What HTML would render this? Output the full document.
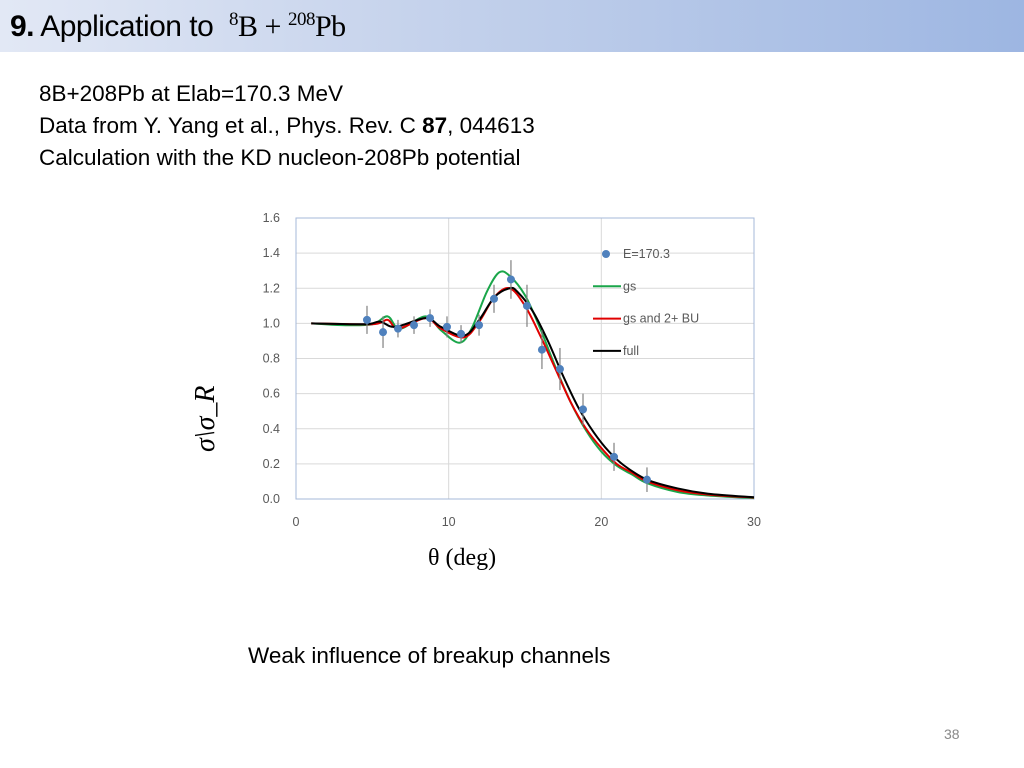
<!DOCTYPE html>
<html><head><meta charset="utf-8"><style>
body{margin:0;width:1024px;height:768px;background:#fff;position:relative;overflow:hidden;font-family:"Liberation Sans",sans-serif}
.hdr{position:absolute;left:0;top:0;width:1024px;height:52px;background:linear-gradient(90deg,#e2e8f5 0%,#c6d3ec 40%,#9db6e2 100%)}
.title{position:absolute;left:10px;top:9px;font-size:30px;color:#000;letter-spacing:-0.5px}
.title .m{font-family:"Liberation Serif",serif}
.txt{position:absolute;left:39px;top:78px;font-size:22.5px;line-height:32px;color:#000}
.foot{position:absolute;left:248px;top:643px;font-size:22.5px}
.pg{position:absolute;left:944px;top:726px;font-size:14px;color:#888}
</style></head><body>
<div class="hdr"></div>
<div class="title"><b>9.</b> Application to &nbsp;<span class="m"><sup style="font-size:19px">8</sup>B + <sup style="font-size:19px">208</sup>Pb</span></div>
<div class="txt">8B+208Pb at Elab=170.3 MeV<br>Data from Y. Yang et al., Phys. Rev. C <b>87</b>, 044613<br>Calculation with the KD nucleon-208Pb potential</div>
<svg id="chart" width="1024" height="768" style="position:absolute;left:0;top:0"></svg>
<div class="foot">Weak influence of breakup channels</div>
<div class="pg">38</div>
<script>
const xTicks=[0,10,20,30];
const yTicks=[0,0.2,0.4,0.6,0.8,1.0,1.2,1.4,1.6];
const dataX=[4.65,5.7,6.68,7.73,8.78,9.89,10.81,11.99,12.97,14.08,15.13,16.11,17.29,18.8,20.83,22.99];
const dataY=[1.02,0.95,0.97,0.99,1.03,0.98,0.94,0.99,1.14,1.25,1.10,0.85,0.74,0.51,0.24,0.11];
const dataErr=[0.08,0.09,0.05,0.05,0.05,0.06,0.05,0.06,0.08,0.11,0.12,0.11,0.12,0.09,0.08,0.07];
const gsX=[1,3,5,6,6.8,8.5,9.5,10.7,11.5,12.5,13.3,14,15,16,17,18,19,20,21,22,23,25,27,30];
const gsY=[1.0,0.99,0.995,1.04,0.97,1.04,0.96,0.89,0.97,1.18,1.29,1.27,1.16,0.97,0.75,0.55,0.39,0.27,0.19,0.14,0.09,0.04,0.02,0.005];
const buX=[1,5,6,6.7,8.5,9.5,11,12,13,14,15,16,17,18,19,20,21,22,23,25,27,30];
const buY=[1.0,0.995,1.02,0.97,1.03,0.97,0.92,1.01,1.15,1.2,1.1,0.93,0.74,0.55,0.40,0.29,0.2,0.15,0.10,0.05,0.025,0.008];
const fullX=[1,4.5,5.5,6.5,8.5,9.5,11,12,13,14,14.5,15.5,16.5,17.5,18.5,19.5,20.5,21.5,23,25,27,30];
const fullY=[1.0,0.995,1.01,0.98,1.03,0.98,0.93,1.02,1.15,1.2,1.18,1.07,0.90,0.70,0.52,0.38,0.27,0.19,0.11,0.06,0.03,0.01];
const X0=296,X1=754,Y0=499,Y1=218;
const sx=v=>X0+(v-0)/30*(X1-X0), sy=v=>Y0-(v/1.6)*(Y0-Y1);
const svg=document.getElementById('chart');const NS='http://www.w3.org/2000/svg';
function mk(t,a,txt){const e=document.createElementNS(NS,t);for(const k in a)e.setAttribute(k,a[k]);if(txt!==undefined)e.textContent=txt;svg.appendChild(e);return e;}
yTicks.forEach(v=>{const l=mk('line',{x1:X0,x2:X1,y1:sy(v),y2:sy(v),stroke:'#d9d9d9','stroke-width':1});

const t=mk('text',{x:X0-16,y:sy(v)+4,'text-anchor':'end','font-size':12.5,fill:'#595959'},v.toFixed(1));
});
xTicks.forEach(v=>{const l=mk('line',{x1:sx(v),x2:sx(v),y1:Y1,y2:Y0,stroke:'#d9d9d9','stroke-width':1});

const t=mk('text',{x:sx(v),y:Y0+27,'text-anchor':'middle','font-size':12.5,fill:'#595959'},String(v));
});
const fr=mk('rect',{x:X0,y:Y1,width:X1-X0,height:Y0-Y1,fill:'none',stroke:'#a6b8d8','stroke-width':1});

function path(xs,ys){const p=xs.map((x,i)=>[sx(x),sy(ys[i])]);let d='M'+p[0][0]+','+p[0][1];
for(let i=0;i<p.length-1;i++){const a=p[Math.max(i-1,0)],b=p[i],c=p[i+1],e=p[Math.min(i+2,p.length-1)];
d+=' C'+(b[0]+(c[0]-a[0])/6)+','+(b[1]+(c[1]-a[1])/6)+' '+(c[0]-(e[0]-b[0])/6)+','+(c[1]-(e[1]-b[1])/6)+' '+c[0]+','+c[1];}return d;}
const g=mk('path',{d:path(gsX,gsY),fill:'none',stroke:'#1aa64a','stroke-width':2});

const r=mk('path',{d:path(buX,buY),fill:'none',stroke:'#e00000','stroke-width':2});

const f=mk('path',{d:path(fullX,fullY),fill:'none',stroke:'#000','stroke-width':2});

dataX.forEach((x,i)=>{const eb=mk('line',{x1:sx(x),x2:sx(x),y1:sy(dataY[i]+dataErr[i]),y2:sy(dataY[i]-dataErr[i]),stroke:'#808080','stroke-width':1.2});

const c=mk('circle',{cx:sx(x),cy:sy(dataY[i]),r:4,fill:'#4f81bd'});
});
const leg=[['E=170.3',null],['gs','#1aa64a'],['gs and 2+ BU','#e00000'],['full','#000']];
leg.forEach((L,i)=>{const y=254+i*32.3;
if(L[1]){const l=mk('line',{x1:593,x2:621,y1:y,y2:y,stroke:L[1],'stroke-width':2});}
else{const c=mk('circle',{cx:606,cy:y,r:4,fill:'#4f81bd'});}
const t=mk('text',{x:623,y:y+4,'font-size':12.5,fill:'#595959'},L[0]);});
const yt=mk('text',{x:0,y:0,'font-size':28,'font-family':'Liberation Serif,serif',transform:'translate(214,452) rotate(-90)'},'σ\\σ_R');

yt.setAttribute('font-style','italic');
const xt=mk('text',{x:428,y:565,'font-size':24,'font-family':'Liberation Serif,serif'},'θ (deg)');

</script>
</body></html>
